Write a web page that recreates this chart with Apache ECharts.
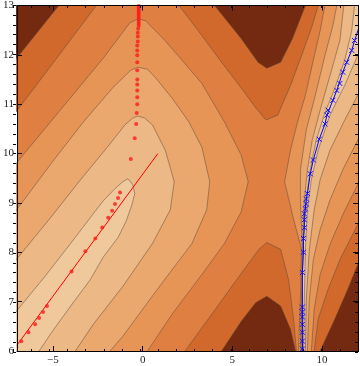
<!DOCTYPE html>
<html>
<head>
<meta charset="utf-8">
<script src="https://cdn.jsdelivr.net/npm/echarts@6/dist/echarts.min.js"></script>
<style>
  html, body { margin: 0; padding: 0; background: #fff; }
  #chart { width: 360px; height: 366px; }
</style>
</head>
<body>
<div id="chart"></div>
<script>
// contour fill colours, darkest (lowest) to lightest (highest)
const levelColors = ["#732a11", "#d0692b", "#df8042", "#e79556", "#eaa76e", "#ecb885", "#efc89c"];
const xTicks = [-5, 0, 5, 10];

// valleys (value at or below a level)
const topLeftValley1 = [[-7.8, 13.3], [-7.8, 10.49], [-6.98, 10.88], [-5.0, 11.83], [-1.96, 13.3]];
const topLeftValley0 = [[-7.8, 13.3], [-7.8, 11.57], [-6.98, 11.95], [-4.01, 13.3]];
const topValley1 = [[1.41, 13.3], [2.03, 13.0], [3.3, 12.39], [4.4, 11.85], [5.49, 11.33], [6.32, 10.92], [6.87, 10.68], [7.53, 10.78], [8.24, 11.38], [8.96, 12.09], [9.45, 12.59], [9.78, 13.0], [10.02, 13.3]];
const topValley0 = [[3.35, 13.3], [4.01, 13.0], [5.49, 12.33], [6.43, 11.85], [6.92, 11.73], [7.69, 11.85], [8.35, 12.33], [9.07, 13.0], [9.39, 13.3]];
const bottomValley1 = [[1.76, 5.6], [2.36, 6.0], [4.0, 6.82], [5.49, 7.57], [6.48, 8.06], [6.92, 8.2], [7.69, 8.06], [8.13, 7.45], [8.41, 6.65], [8.57, 6.0], [8.62, 5.6]];
const bottomValley0 = [[4.2, 5.6], [4.4, 6.0], [5.49, 6.6], [6.3, 6.98], [6.92, 7.11], [7.69, 6.91], [8.24, 6.44], [8.52, 6.0], [8.6, 5.6]];
const rightValley1 = [[9.45, 5.6], [9.56, 6.0], [9.78, 6.65], [10.33, 7.25], [10.99, 7.85], [11.98, 8.56], [12.5, 8.9], [12.5, 5.6]];
const rightValley0 = [[9.7, 5.6], [9.89, 6.0], [10.71, 6.65], [11.43, 7.25], [11.98, 7.75], [12.5, 8.2], [12.5, 5.6]];

// left ridge (value at or above a level)
const leftRidge3 = [[-7.69, 9.51], [-6.98, 9.83], [-2.2, 11.93], [-0.71, 12.65], [-0.27, 12.73], [0.16, 12.69], [1.1, 12.35], [2.2, 11.89], [3.3, 11.42], [4.56, 10.64], [5.49, 9.97], [5.88, 9.43], [5.49, 8.82], [4.56, 8.18], [3.3, 7.55], [1.65, 6.75], [0.27, 6.0], [-0.16, 5.6], [-7.8, 5.6]];
const leftRidge4 = [[-7.69, 8.54], [-6.98, 8.88], [-4.95, 9.87], [-3.3, 10.64], [-1.65, 11.34], [-0.66, 11.69], [-0.27, 11.75], [0.27, 11.71], [0.71, 11.54], [1.65, 11.12], [2.58, 10.64], [3.3, 10.13], [3.74, 9.43], [3.57, 8.86], [2.75, 8.18], [0.82, 7.25], [-1.1, 6.3], [-1.81, 6.0], [-2.31, 5.6], [-7.8, 5.6]];
const leftRidge5 = [[-7.69, 7.55], [-6.98, 7.88], [-5.22, 8.66], [-3.46, 9.47], [-1.92, 10.15], [-0.99, 10.58], [-0.55, 10.72], [-0.27, 10.76], [0.11, 10.72], [0.55, 10.58], [1.26, 10.07], [1.76, 9.43], [1.54, 8.86], [0.55, 8.18], [-1.1, 7.31], [-2.75, 6.54], [-3.75, 6.0], [-4.3, 5.6], [-7.8, 5.6]];
const leftRidge6 = [[-7.69, 6.5], [-6.98, 6.83], [-5.49, 7.49], [-4.01, 8.18], [-2.75, 8.78], [-2.2, 9.04], [-1.54, 9.29], [-1.1, 9.43], [-0.82, 9.49], [-0.55, 9.37], [-0.44, 9.19], [-0.6, 8.96], [-0.93, 8.62], [-1.37, 8.3], [-2.2, 7.9], [-2.91, 7.45], [-4.01, 6.91], [-4.95, 6.44], [-5.77, 6.0], [-6.2, 5.6], [-7.8, 5.6]];

// right ridge along the blue path
const rightRidge3 = [[8.66, 5.6], [8.68, 6.0], [8.79, 7.05], [8.85, 8.06], [8.35, 8.76], [7.91, 9.43], [8.24, 10.07], [8.63, 10.64], [9.07, 11.18], [9.51, 11.89], [9.89, 12.49], [10.16, 13.0], [10.3, 13.3], [12.5, 13.3], [12.5, 9.8], [11.98, 9.37], [11.15, 8.76], [10.44, 8.16], [9.89, 7.55], [9.56, 6.85], [9.4, 6.0], [9.37, 5.6]];
const rightRidge4 = [[8.78, 5.6], [8.79, 6.0], [8.85, 7.05], [8.9, 8.06], [8.79, 9.06], [8.79, 9.67], [9.12, 10.48], [9.62, 11.18], [10.16, 11.99], [10.6, 12.59], [10.82, 13.0], [10.95, 13.3], [12.5, 13.3], [12.5, 10.6], [11.98, 10.27], [11.15, 9.67], [10.44, 9.06], [9.89, 8.46], [9.51, 7.85], [9.29, 7.05], [9.18, 6.0], [9.17, 5.6]];
const rightRidge5 = [[8.84, 5.6], [8.85, 6.0], [8.9, 7.05], [8.9, 8.06], [9.01, 9.06], [9.18, 9.67], [9.45, 10.27], [9.89, 10.88], [10.44, 11.58], [10.99, 12.29], [11.21, 13.0], [11.3, 13.3], [12.5, 13.3], [12.5, 11.5], [11.98, 11.18], [11.26, 10.68], [10.44, 10.07], [9.89, 9.47], [9.56, 8.86], [9.29, 8.06], [9.12, 7.05], [9.07, 6.0], [9.06, 5.6]];
const rightRidge6 = [[8.89, 5.6], [8.9, 6.0], [8.9, 7.45], [8.96, 8.26], [9.12, 9.06], [9.34, 9.67], [9.67, 10.27], [10.11, 10.78], [10.66, 11.28], [11.26, 11.89], [11.65, 12.49], [11.81, 13.0], [11.9, 13.3], [12.5, 13.3], [12.5, 12.3], [11.98, 11.99], [11.26, 11.38], [10.44, 10.78], [9.78, 10.07], [9.4, 9.47], [9.18, 8.86], [9.07, 8.06], [9.01, 7.05], [8.96, 6.0], [8.96, 5.6]];

// painter order: [level, polygon]
const bands = [
  [1, topLeftValley1], [1, topValley1], [1, bottomValley1], [1, rightValley1],
  [0, topLeftValley0], [0, topValley0], [0, bottomValley0], [0, rightValley0],
  [3, leftRidge3], [4, leftRidge4], [5, leftRidge5], [6, leftRidge6],
  [3, rightRidge3], [4, rightRidge4], [5, rightRidge5], [6, rightRidge6]
];

const redLine = [[-7, 6.12], [0.85, 10.0]];
const redDots = [
  [-0.22, 12.99], [-0.22, 12.95], [-0.22, 12.91], [-0.22, 12.87], [-0.22, 12.83], [-0.22, 12.79],
  [-0.22, 12.75], [-0.22, 12.71], [-0.22, 12.67], [-0.22, 12.63], [-0.22, 12.59], [-0.25, 12.53],
  [-0.27, 12.45], [-0.27, 12.37], [-0.27, 12.27], [-0.3, 12.19], [-0.3, 12.09], [-0.3, 11.99],
  [-0.3, 11.85], [-0.3, 11.69], [-0.3, 11.5], [-0.3, 11.4], [-0.3, 11.28], [-0.3, 11.14],
  [-0.3, 11.0], [-0.33, 10.82], [-0.36, 10.6], [-0.44, 10.31], [-0.66, 9.89],
  [-1.26, 9.21], [-1.37, 9.1], [-1.54, 8.98], [-1.7, 8.84], [-1.92, 8.7], [-2.25, 8.5],
  [-2.64, 8.28], [-3.19, 8.02], [-3.96, 7.61], [-5.33, 6.91], [-5.55, 6.79], [-5.77, 6.67],
  [-5.99, 6.54], [-6.37, 6.38], [-6.76, 6.2]
];
const bluePath = [[8.92, 5.95], [8.9, 6.2], [8.9, 6.89], [8.9, 7.59], [8.96, 8.0], [8.96, 8.28], [9.01, 8.5], [9.01, 8.78], [9.07, 8.88], [9.12, 9.08], [9.18, 9.19], [9.34, 9.59], [9.51, 9.87], [9.84, 10.29], [10.16, 10.6], [10.27, 10.78], [10.6, 11.08], [10.82, 11.28], [11.15, 11.65], [11.37, 11.85], [11.65, 12.09], [11.81, 12.29], [12.1, 12.6]];
const blueMarks = [
  [8.9, 6.04], [8.9, 6.2], [8.9, 6.38], [8.9, 6.54], [8.9, 6.69], [8.9, 6.79], [8.9, 6.89],
  [8.9, 7.59], [8.96, 8.0], [8.96, 8.28], [9.01, 8.5], [9.01, 8.66], [9.01, 8.78], [9.07, 8.88],
  [9.12, 8.98], [9.12, 9.08], [9.18, 9.19], [9.34, 9.59], [9.51, 9.87], [9.84, 10.29],
  [10.16, 10.6], [10.27, 10.78], [10.33, 10.88], [10.6, 11.08], [10.82, 11.28], [10.99, 11.42],
  [11.15, 11.65], [11.37, 11.85], [11.65, 12.09], [11.81, 12.29]
];

const chart = echarts.init(document.getElementById("chart"), null, { renderer: "canvas" });

const gridBox = { left: 13, right: 2, top: 5, bottom: 14 };
const labelFont = { fontFamily: "Liberation Serif", fontSize: 11, color: "#222" };
const fmt = (v) => (v < 0 ? "\u2212" + Math.abs(v) : String(v));

function xAxis(gridIndex, position, opts) {
  return {
    type: "value", gridIndex, position, min: -7, max: 12, z: 10,
    axisLine: { show: gridIndex === 0, onZero: false, lineStyle: { color: "#000", width: 1 } },
    splitLine: { show: false },
    ...opts,
  };
}
function yAxis(gridIndex, position, opts) {
  return {
    type: "value", gridIndex, position, min: 6, max: 13, z: 10,
    axisLine: { show: gridIndex === 0, onZero: false, lineStyle: { color: "#000", width: 1 } },
    splitLine: { show: false },
    ...opts,
  };
}

chart.setOption({
  animation: false,
  grid: [
    { ...gridBox, show: true, backgroundColor: levelColors[2], borderWidth: 0 },
    { ...gridBox, show: false },
  ],
  xAxis: [
    xAxis(0, "bottom", {
      axisTick: { inside: true, length: 5, customValues: xTicks, lineStyle: { color: "#000" } },
      axisLabel: { customValues: xTicks, formatter: fmt, margin: 4, ...labelFont },
    }),
    xAxis(0, "top", {
      axisTick: { inside: true, length: 5, customValues: xTicks, lineStyle: { color: "#000" } },
      axisLabel: { show: false },
    }),
    xAxis(1, "bottom", {
      interval: 1,
      axisTick: { inside: true, length: 3, lineStyle: { color: "#000" } },
      axisLabel: { show: false },
    }),
    xAxis(1, "top", {
      interval: 1,
      axisTick: { inside: true, length: 3, lineStyle: { color: "#000" } },
      axisLabel: { show: false },
    }),
  ],
  yAxis: [
    yAxis(0, "left", {
      interval: 1,
      axisTick: { inside: true, length: 5, lineStyle: { color: "#000" } },
      axisLabel: { margin: 3, ...labelFont },
    }),
    yAxis(0, "right", {
      interval: 1,
      axisTick: { inside: true, length: 5, lineStyle: { color: "#000" } },
      axisLabel: { show: false },
    }),
    yAxis(1, "left", {
      interval: 0.2,
      axisTick: { inside: true, length: 3, lineStyle: { color: "#000" } },
      axisLabel: { show: false },
    }),
    yAxis(1, "right", {
      interval: 0.2,
      axisTick: { inside: true, length: 3, lineStyle: { color: "#000" } },
      axisLabel: { show: false },
    }),
  ],
  series: [
    {
      type: "custom",
      xAxisIndex: 0,
      yAxisIndex: 0,
      clip: true,
      z: 1,
      data: bands.map(() => [0, 9]),
      renderItem(params, api) {
        const [level, poly] = bands[params.dataIndex];
        return {
          type: "polygon",
          z2: params.dataIndex,
          shape: { points: poly.map((p) => api.coord(p)) },
          style: { fill: levelColors[level], stroke: "rgba(90,72,55,0.55)", lineWidth: 0.9 },
        };
      },
    },
    {
      type: "line",
      data: redLine,
      symbol: "none",
      z: 3,
      clip: true,
      lineStyle: { color: "#ff0000", width: 1 },
    },
    {
      type: "scatter",
      data: redDots,
      symbolSize: 4,
      z: 4,
      itemStyle: { color: "#ff1a1a" },
    },
    {
      type: "line",
      data: bluePath,
      symbol: "none",
      z: 3,
      clip: true,
      lineStyle: { color: "#0000ff", width: 1 },
    },
    {
      type: "custom",
      z: 4,
      clip: true,
      data: blueMarks,
      renderItem(params, api) {
        const c = api.coord([api.value(0), api.value(1)]);
        const s = 2.5;
        const st = { stroke: "#1010ff", lineWidth: 1 };
        return {
          type: "group",
          children: [
            { type: "line", shape: { x1: c[0] - s, y1: c[1] - s, x2: c[0] + s, y2: c[1] + s }, style: st },
            { type: "line", shape: { x1: c[0] - s, y1: c[1] + s, x2: c[0] + s, y2: c[1] - s }, style: st },
          ],
        };
      },
    },
  ],
});
</script>
</body>
</html>
